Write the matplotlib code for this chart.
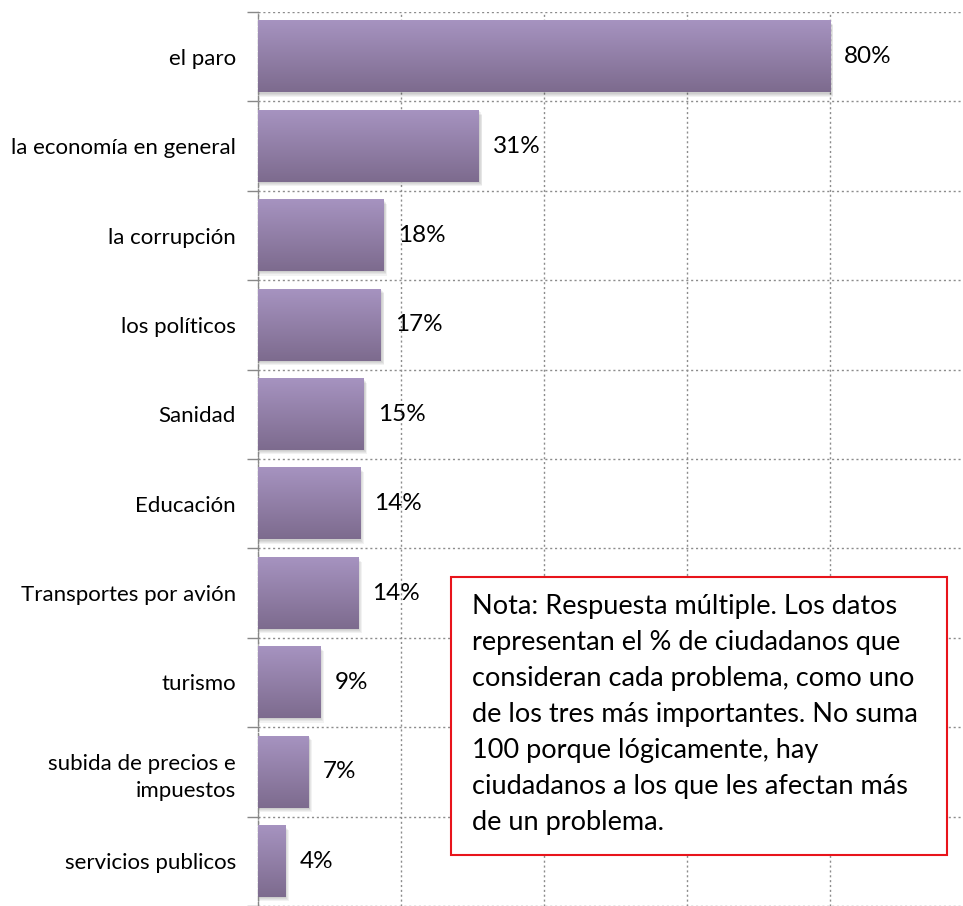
import numpy as np
import matplotlib.pyplot as plt
from matplotlib.patches import Rectangle

# Data
categories = ["el paro", "la economía en general", "la corrupción", "los políticos",
              "Sanidad", "Educación", "Transportes por avión", "turismo",
              "subida de precios e\nimpuestos", "servicios publicos"]
values = [80.0, 30.9, 17.6, 17.2, 14.8, 14.3, 14.0, 8.7, 7.1, 3.8]
value_labels = ["80%", "31%", "18%", "17%", "15%", "14%", "14%", "9%", "7%", "4%"]
note_lines = ["Nota: Respuesta múltiple. Los datos",
              "representan el % de ciudadanos que",
              "consideran cada problema, como uno",
              "de los tres más importantes. No suma",
              "100 porque lógicamente, hay",
              "ciudadanos a los que les afectan más",
              "de un problema."]

FONT = ["Lato", "DejaVu Sans"]
plt.rcParams['font.family'] = FONT

W, H = 963, 906
fig = plt.figure(figsize=(W / 100, H / 100), dpi=100)
ax = fig.add_axes([258 / W, 0, 1 - 258 / W, 1 - 12 / H])

BAR_H = 0.8
top_col = np.array([0xA6, 0x93, 0xC0]) / 255
bot_col = np.array([0x7D, 0x6B, 0x8E]) / 255
grad = np.linspace(0, 1, 64)[:, None, None]
grad_img = top_col * (1 - grad) + bot_col * grad

for i, (v, lab) in enumerate(zip(values, value_labels)):
    # soft shadow (a few stacked translucent rects)
    for k in range(4):
        d = 0.012 * (k + 1)
        ax.add_patch(Rectangle((0, i - BAR_H / 2 + d), v + 0.12 * (k + 1), BAR_H,
                               facecolor="#000000", alpha=0.05, edgecolor="none", zorder=2))
    ax.imshow(grad_img, extent=(0, v, i + BAR_H / 2, i - BAR_H / 2),
              aspect="auto", origin="upper", zorder=3, interpolation="bilinear")
    ax.text(v + 2.0, i, lab, va="center", ha="left", fontsize=17.5, color="black", zorder=4)

xmax = (W - 258) / 143 * 20
ax.set_xlim(0, xmax)
ax.set_ylim(-0.5 + (H - 12) / 89.6, -0.5)

ax.set_xticks([0, 20, 40, 60, 80])
ax.set_xticklabels([])
ax.tick_params(axis="x", length=0)
ax.set_yticks(range(len(categories)))
ax.set_yticklabels(categories, fontsize=16, linespacing=1.45)
ax.set_yticks(np.arange(-0.5, len(categories), 1), minor=True)
ax.tick_params(axis="y", which="major", length=0, pad=16)
ax.tick_params(axis="y", which="minor", length=8, color="#888888", width=1)
ax.grid(axis="x", which="major", color="#8c8c8c", linestyle=(0, (1.5, 2)), linewidth=1, zorder=0)
ax.grid(axis="y", which="minor", color="#8c8c8c", linestyle=(0, (1.5, 2)), linewidth=1, zorder=0)
ax.set_axisbelow(True)
for s in ["top", "right", "bottom"]:
    ax.spines[s].set_visible(False)
ax.spines["left"].set_color("#888888")
ax.spines["left"].set_linestyle((0, (3, 1.5)))
ax.spines["left"].set_linewidth(1)

# note box
bx0, bx1, by0, by1 = 451, 947, 577, 855
fig.patches.append(Rectangle((bx0 / W, 1 - by1 / H), (bx1 - bx0) / W, (by1 - by0) / H,
                             transform=fig.transFigure, facecolor="white",
                             edgecolor="#E8141B", linewidth=1.5, zorder=5))
fig.text(472 / W, 1 - 594 / H, "\n".join(note_lines), ha="left", va="top",
         fontsize=19.5, linespacing=1.55, color="black", zorder=6)

fig.savefig("out.png", dpi=100)
